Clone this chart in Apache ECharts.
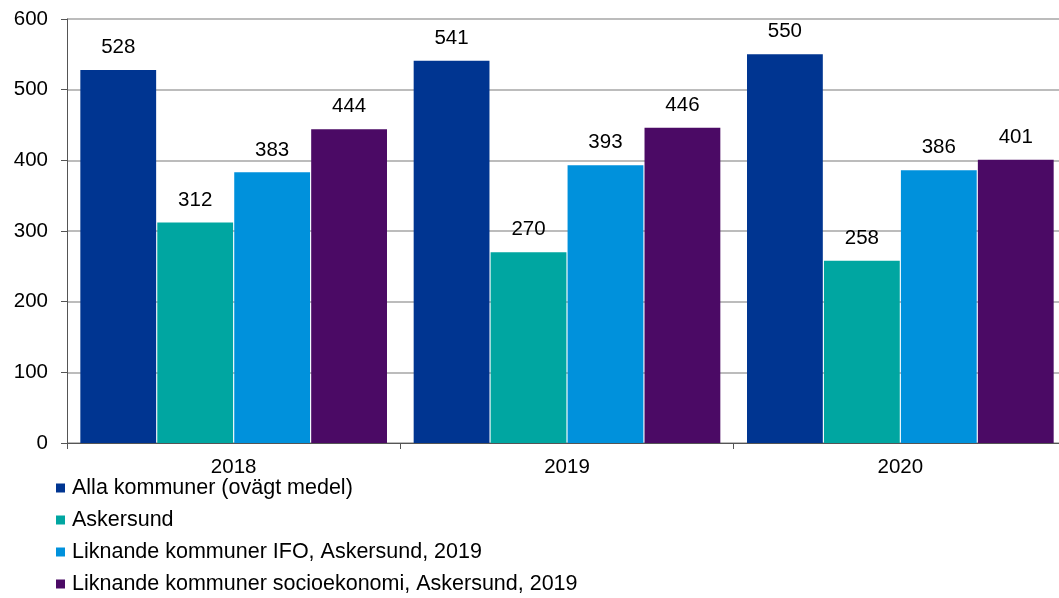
<!DOCTYPE html>
<html><head><meta charset="utf-8">
<script src="https://cdn.jsdelivr.net/npm/echarts@6/dist/echarts.min.js"></script>
<style>html,body{margin:0;padding:0;background:#fff;overflow:hidden}#c{width:1067px;height:598px}</style>
</head><body><div id="c"></div>
<script>
const categories = ['2018', '2019', '2020'];
const seriesNames = ['Alla kommuner (ovägt medel)', 'Askersund', 'Liknande kommuner IFO, Askersund, 2019', 'Liknande kommuner socioekonomi, Askersund, 2019'];
const allaKommuner = [528, 541, 550];
const askersund = [312, 270, 258];
const liknandeIFO = [383, 393, 386];
const liknandeSocio = [444, 446, 401];
const yTicks = [0, 100, 200, 300, 400, 500, 600];
const colors = ['#003591', '#00a6a1', '#0091dc', '#4b0a65'];
const values = [allaKommuner, askersund, liknandeIFO, liknandeSocio];

const chart = echarts.init(document.getElementById('c'));
const font = 'Liberation Sans, Arial, sans-serif';
chart.setOption({
  animation: false,
  textStyle: { fontFamily: font },
  grid: { left: 67, right: 0, top: 19, bottom: 155, containLabel: false },
  legend: {
    orient: 'vertical', left: 56, top: 477, height: 140, padding: 0,
    itemWidth: 9, itemHeight: 9, itemGap: 10,
    icon: 'rect',
    textStyle: { fontSize: 21.5, lineHeight: 22, color: '#000', fontFamily: font, padding: [0, 0, 0, 2] },
    data: seriesNames
  },
  xAxis: {
    type: 'category', data: categories,
    axisLine: { lineStyle: { color: '#555', width: 1 } },
    axisTick: { show: true, alignWithLabel: false, length: 6, lineStyle: { color: '#555' } },
    axisLabel: { fontSize: 20.5, color: '#000', margin: 14, fontFamily: font }
  },
  yAxis: {
    type: 'value', min: yTicks[0], max: yTicks[yTicks.length - 1], interval: 100,
    axisLine: { show: true, lineStyle: { color: '#555' } },
    axisTick: { show: true, length: 6, lineStyle: { color: '#555' } },
    axisLabel: { fontSize: 20.5, color: '#000', margin: 19, fontFamily: font },
    splitLine: { lineStyle: { color: '#a6a6a6', width: 1.5 } }
  },
  series: seriesNames.map((n, i) => ({
    name: n, type: 'bar', data: values[i],
    barGap: '1.5%', barCategoryGap: '8%',
    itemStyle: { color: colors[i] },
    label: { show: true, position: 'top', distance: 12, fontSize: 20.5, color: '#000', fontFamily: font }
  }))
});
</script></body></html>
